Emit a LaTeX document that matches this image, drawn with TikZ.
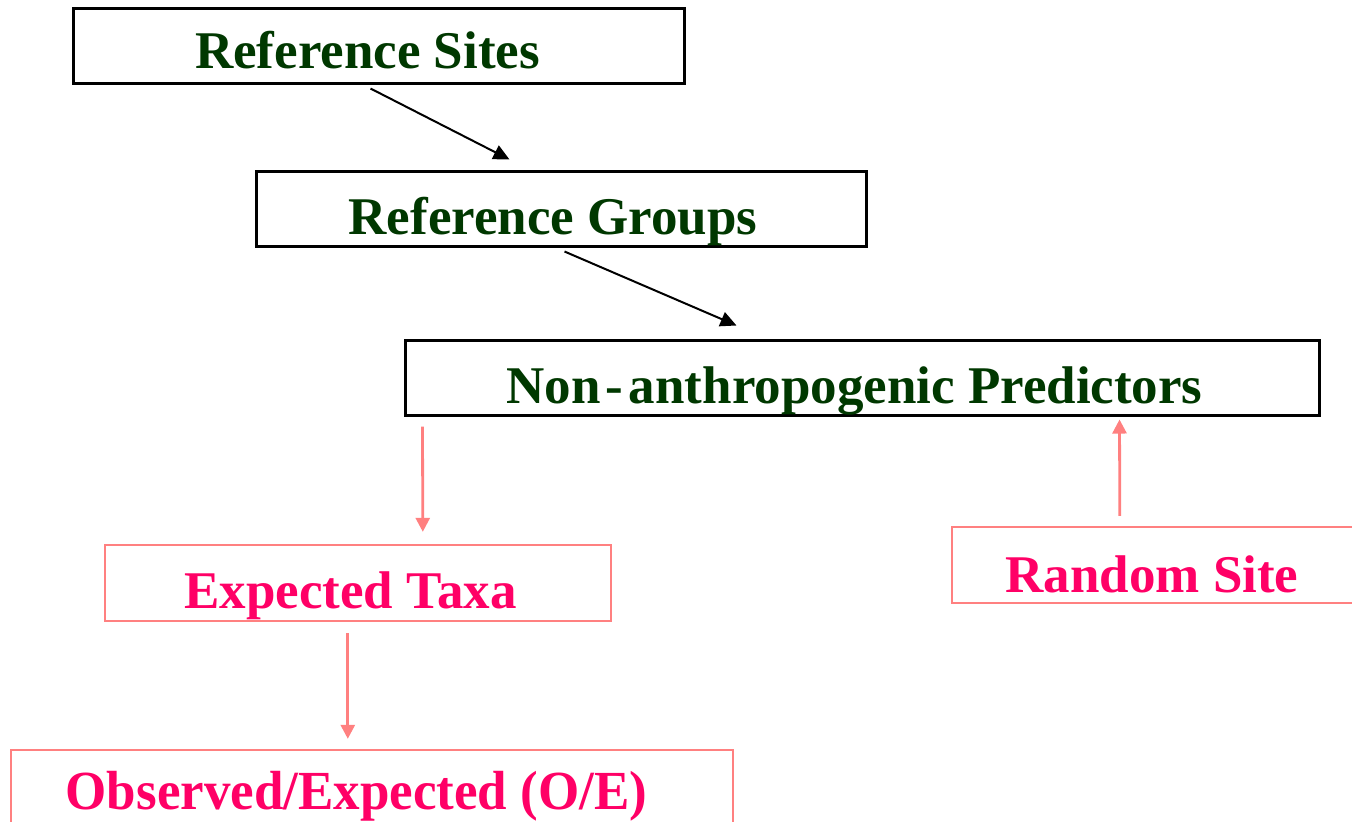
\documentclass[tikz,border=0pt]{standalone}
\usepackage{fontspec}
\setmainfont{Liberation Serif}
\usetikzlibrary{fit,arrows.meta}
\definecolor{dgreen}{RGB}{0,56,0}
\definecolor{hotpink}{RGB}{255,0,102}
\definecolor{salmon}{RGB}{255,128,128}
\tikzset{
  blackbox/.style={draw=black,line width=1.5pt,inner sep=0pt},
  pinkbox/.style={draw=salmon,line width=1.2pt,inner sep=0pt},
  greentxt/.style={text=dgreen,font=\fontsize{26.5pt}{30pt}\selectfont\bfseries,anchor=base,inner sep=0pt},
  pinktxt/.style={text=hotpink,font=\fontsize{26.5pt}{30pt}\selectfont\bfseries,anchor=base,inner sep=0pt},
  blackarrow/.style={draw=black,line width=1pt,-{Triangle[length=8pt,width=7.5pt]}},
  pinkarrow/.style={draw=salmon,line width=1.4pt,-{Triangle[length=7pt,width=7pt]}}
}
\begin{document}
\begin{tikzpicture}[x=0.5pt,y=-0.5pt]
\clip (0,0) rectangle (1352,821);
\fill[white] (0,0) rectangle (1352,821);
% boxes
\node[blackbox,fit={(73,8) (684,83)}] (rs) {};
\node[blackbox,fit={(256,171) (866,246)}] (rg) {};
\node[blackbox,fit={(405,340) (1319,415)}] (nap) {};
\node[pinkbox,fit={(105,545) (611,621)}] (et) {};
\node[pinkbox,fit={(952,527) (1357,603)}] (rand) {};
\node[pinkbox,fit={(11,750) (733,835)}] (oe) {};
% texts
\node[greentxt] (rst) at (367.5,68) {Reference Sites};
\node[greentxt] (rgt) at (553,234) {Reference Groups};
\node[greentxt] (napt) at (854.5,403) {Non\hspace{0.1em}-\hspace{0.1em}anthropogenic Predictors};
\node[pinktxt] (ett) at (350.5,608) {Expected Taxa};
\node[pinktxt] (randt) at (1152,592) {Random Site};
\node[pinktxt,yscale=1.04] (oet) at (356.5,809) {Observed/Expected (O/E)};
% connectors
\draw[blackarrow] ([shift={(299,4)}]rs.south west) -- ([shift={(255,-10)}]rg.north west);
\draw[blackarrow] ([shift={(310,4)}]rg.south west) -- ([shift={(333,-13)}]nap.north west);
\draw[pinkarrow] ([shift={(19,10)}]nap.south west) -- ([shift={(319,-12)}]et.north west);
\draw[pinkarrow] ([shift={(169,-10)}]rand.north west) -- ([shift={(716,3)}]nap.south west);
\draw[pinkarrow] ([shift={(244,11)}]et.south west) -- ([shift={(338,-10)}]oe.north west);
\end{tikzpicture}
\end{document}
